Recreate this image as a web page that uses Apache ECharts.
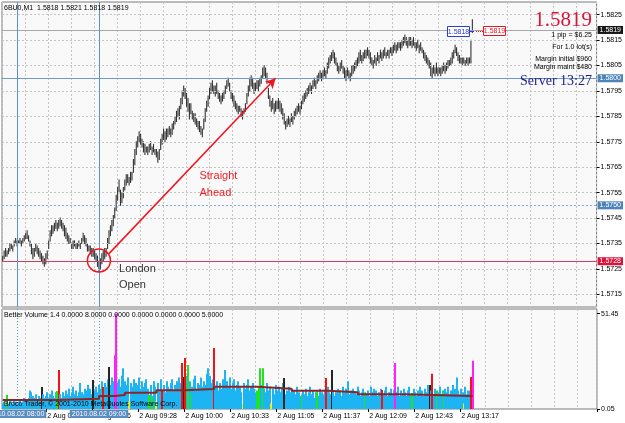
<!DOCTYPE html>
<html>
<head>
<meta charset="utf-8">
<script src="https://cdn.jsdelivr.net/npm/echarts@6/dist/echarts.min.js"></script>
<style>
  html, body { margin: 0; padding: 0; background: #fff; }
  #main { width: 625px; height: 423px; }
</style>
</head>
<body>
<div id="main"></div>
<script>
// 6BU0 M1 bars, 2 Aug 2010 ~08:00 - 13:27 (low / high per bar)
const lows = [
  1.5728,1.5729,1.5730,1.5730,1.5731,1.5732,1.5733,1.5732,1.5734,1.5735,
  1.5734,1.5735,1.5735,1.5734,1.5735,1.5736,1.5737,1.5737,1.5736,1.5734,
  1.5731,1.5729,1.5730,1.5732,1.5731,1.5730,1.5729,1.5728,1.5727,1.5726,
  1.5727,1.5729,1.5733,1.5736,1.5738,1.5739,1.5740,1.5741,1.5740,1.5741,
  1.5742,1.5741,1.5740,1.5738,1.5737,1.5736,1.5735,1.5735,1.5733,1.5733,
  1.5734,1.5733,1.5733,1.5734,1.5733,1.5735,1.5736,1.5735,1.5734,1.5732,
  1.5732,1.5731,1.5730,1.5730,1.5729,1.5728,1.5726,1.5724,1.5725,1.5727,
  1.5728,1.5729,1.5730,1.5733,1.5735,1.5738,1.5740,1.5742,1.5745,1.5748,
  1.5752,1.5755,1.5750,1.5751,1.5753,1.5756,1.5758,1.5759,1.5758,1.5759,
  1.5760,1.5763,1.5766,1.5770,1.5773,1.5775,1.5774,1.5773,1.5771,1.5770,
  1.5771,1.5770,1.5771,1.5772,1.5770,1.5771,1.5770,1.5769,1.5767,1.5768,
  1.5772,1.5774,1.5776,1.5775,1.5776,1.5777,1.5778,1.5777,1.5778,1.5780,
  1.5782,1.5783,1.5785,1.5784,1.5788,1.5790,1.5793,1.5792,1.5789,1.5787,
  1.5784,1.5786,1.5784,1.5783,1.5782,1.5781,1.5780,1.5779,1.5778,1.5777,
  1.5780,1.5783,1.5787,1.5789,1.5792,1.5794,1.5795,1.5794,1.5793,1.5794,
  1.5792,1.5791,1.5790,1.5791,1.5792,1.5794,1.5796,1.5797,1.5795,1.5792,
  1.5791,1.5789,1.5788,1.5787,1.5786,1.5787,1.5785,1.5784,1.5786,1.5787,
  1.5790,1.5793,1.5795,1.5797,1.5796,1.5794,1.5795,1.5796,1.5795,1.5797,
  1.5798,1.5800,1.5801,1.5800,1.5798,1.5792,1.5789,1.5787,1.5788,1.5786,
  1.5787,1.5788,1.5788,1.5787,1.5786,1.5784,1.5782,1.5780,1.5781,1.5782,
  1.5781,1.5783,1.5782,1.5784,1.5785,1.5786,1.5787,1.5786,1.5788,1.5790,
  1.5791,1.5792,1.5793,1.5794,1.5795,1.5794,1.5796,1.5797,1.5796,1.5798,
  1.5799,1.5800,1.5799,1.5800,1.5801,1.5800,1.5802,1.5804,1.5806,1.5807,
  1.5808,1.5806,1.5805,1.5803,1.5802,1.5803,1.5804,1.5802,1.5800,1.5799,
  1.5801,1.5800,1.5799,1.5801,1.5802,1.5803,1.5804,1.5805,1.5806,1.5807,
  1.5806,1.5807,1.5808,1.5808,1.5809,1.5808,1.5806,1.5805,1.5804,1.5806,
  1.5805,1.5807,1.5806,1.5808,1.5807,1.5808,1.5809,1.5808,1.5809,1.5808,
  1.5810,1.5809,1.5810,1.5811,1.5810,1.5811,1.5812,1.5811,1.5812,1.5813,
  1.5814,1.5813,1.5812,1.5813,1.5813,1.5812,1.5813,1.5812,1.5811,1.5812,
  1.5810,1.5811,1.5810,1.5808,1.5807,1.5806,1.5805,1.5804,1.5801,1.5800,
  1.5802,1.5801,1.5802,1.5801,1.5802,1.5801,1.5802,1.5803,1.5802,1.5803,
  1.5804,1.5805,1.5805,1.5806,1.5808,1.5810,1.5809,1.5807,1.5806,1.5806,
  1.5805,1.5806,1.5805,1.5806,1.5805,1.5806,1.5806,1.5818
];
const highs = [
  1.5730,1.5732,1.5733,1.5732,1.5733,1.5735,1.5735,1.5734,1.5736,1.5737,
  1.5736,1.5736,1.5737,1.5736,1.5737,1.5738,1.5739,1.5740,1.5738,1.5736,
  1.5735,1.5733,1.5733,1.5735,1.5734,1.5733,1.5732,1.5731,1.5730,1.5729,
  1.5731,1.5732,1.5736,1.5740,1.5742,1.5742,1.5743,1.5744,1.5743,1.5744,
  1.5745,1.5744,1.5743,1.5742,1.5741,1.5739,1.5738,1.5737,1.5735,1.5736,
  1.5736,1.5735,1.5735,1.5736,1.5735,1.5737,1.5739,1.5738,1.5737,1.5735,
  1.5734,1.5734,1.5733,1.5733,1.5732,1.5731,1.5730,1.5728,1.5729,1.5731,
  1.5732,1.5733,1.5733,1.5737,1.5740,1.5742,1.5744,1.5746,1.5749,1.5754,
  1.5757,1.5760,1.5756,1.5755,1.5757,1.5760,1.5762,1.5762,1.5761,1.5763,
  1.5763,1.5768,1.5772,1.5775,1.5777,1.5779,1.5778,1.5776,1.5775,1.5774,
  1.5773,1.5773,1.5774,1.5775,1.5773,1.5774,1.5772,1.5772,1.5771,1.5772,
  1.5776,1.5778,1.5780,1.5779,1.5780,1.5780,1.5781,1.5780,1.5782,1.5783,
  1.5785,1.5787,1.5788,1.5789,1.5792,1.5795,1.5797,1.5796,1.5794,1.5792,
  1.5790,1.5790,1.5787,1.5786,1.5786,1.5784,1.5783,1.5783,1.5781,1.5780,
  1.5784,1.5788,1.5791,1.5793,1.5796,1.5798,1.5799,1.5797,1.5797,1.5798,
  1.5795,1.5794,1.5793,1.5794,1.5795,1.5797,1.5799,1.5800,1.5798,1.5795,
  1.5794,1.5793,1.5791,1.5790,1.5789,1.5789,1.5788,1.5787,1.5788,1.5790,
  1.5794,1.5797,1.5800,1.5801,1.5800,1.5798,1.5798,1.5799,1.5799,1.5800,
  1.5801,1.5804,1.5805,1.5804,1.5802,1.5796,1.5793,1.5791,1.5792,1.5790,
  1.5791,1.5791,1.5792,1.5791,1.5790,1.5788,1.5786,1.5783,1.5784,1.5785,
  1.5784,1.5786,1.5785,1.5787,1.5788,1.5789,1.5790,1.5789,1.5791,1.5793,
  1.5794,1.5795,1.5796,1.5797,1.5798,1.5797,1.5799,1.5800,1.5799,1.5801,
  1.5802,1.5803,1.5802,1.5803,1.5804,1.5803,1.5806,1.5808,1.5809,1.5810,
  1.5811,1.5810,1.5808,1.5806,1.5805,1.5806,1.5807,1.5805,1.5804,1.5803,
  1.5804,1.5803,1.5802,1.5805,1.5805,1.5806,1.5807,1.5808,1.5810,1.5811,
  1.5809,1.5810,1.5811,1.5811,1.5812,1.5811,1.5810,1.5808,1.5807,1.5809,
  1.5808,1.5810,1.5809,1.5811,1.5810,1.5811,1.5812,1.5810,1.5811,1.5811,
  1.5812,1.5812,1.5813,1.5814,1.5813,1.5814,1.5814,1.5814,1.5815,1.5816,
  1.5817,1.5816,1.5815,1.5816,1.5816,1.5815,1.5816,1.5814,1.5814,1.5815,
  1.5813,1.5814,1.5812,1.5811,1.5810,1.5809,1.5808,1.5807,1.5806,1.5804,
  1.5805,1.5804,1.5806,1.5804,1.5804,1.5804,1.5805,1.5806,1.5805,1.5806,
  1.5807,1.5807,1.5808,1.5810,1.5811,1.5813,1.5812,1.5810,1.5809,1.5808,
  1.5808,1.5808,1.5807,1.5808,1.5808,1.5808,1.5815,1.5823
];
// Better Volume histogram
const volumes = [
  3,4,2,7.6,3,5,4,3,5,4,  3,4,5,3,4,6,5,4,6,10,
  9,7,6,8,5,7,6,11.9,8,6,  7,9,6,8,10,7,6,9,9.7,21,
  8,6,9,7,10,8,11,7,9,12,  8,10,7,9,14,9,8,11,10,13,
  9,11,8,15.7,10,12,9,13,11,15,  11.9,14,12,16,22.7,13,17,15,29,51.45,
  14,16,12,18,22,15,13,17,4,14,  12,16,10,14,13,17,11,15,12,14,
  16,11,7.6,13,7,15,12,4,14,10,  16,10.3,13,9,15,12,11,14,16,10,
  13,15,12,17,14,24.8,17.3,27.5,18,23.8,  15,8,12,16,18,11,14,13,17,12,
  15,13,19,22,18,14,16,33,12,15,  10,14,11,16,13,21,15,12,17,11,
  14,16,10,13,15,12,9,3,14,11,  13,16,10,12,14,11,9,10,12,22,
  13,22,11,9,14,10,12,3,11,8,  13,10,12,9,11,14,16.7,8,10,12,
  9,11,7,10,8,12,9,7,7.6,10,  8,11,7,9,12,8,10,6,9,10,
  7,11,9,8,10,16.7,12,9,8,21,  10,7,9,11,8,10,7,12,9,11,
  15,8,10,7,11,9,8,12,10,7,  9,11,9,8,10,7,12,9,11,8,
  10,7,9,11,10.3,8,10,12,7,9,  11,8,10,24.8,9,12,7,10,8,11,
  9,7,10,12,8,8.6,11,9,7,10,  12,8,10,7,11,9,13,13,10,19,
  8,11,10,9,12,8,10,10,11,9,  12,8,10,13,9,11,17,10,8,11,
  9,3,12,8,10,10,17.3,26
];
const climaxUpBars = [39, 70, 111, 125, 127, 147, 225, 264, 299, 326];
const climaxDownBars = [27, 63, 74, 126, 196, 229, 297];
const churnBars = [3, 38, 102, 104, 129, 131, 177, 178, 179, 181, 208, 219, 252, 285, 302, 307];
const climaxChurnBars = [78, 79, 273, 327];
const lowVolBars = [88, 107, 167, 187, 321];
// moving average of volume, [bar index, value] at each step
const volMaSteps = [[0, 4.9], [38, 5.6], [67, 7.0], [78, 7.6], [85, 8.8], [107, 10.1], [127, 10.8],
  [147, 12.0], [177, 11.0], [201, 9.9], [226, 9.0], [247, 7.9], [279, 7.0], [327, 7.0]];

const priceTicks = [1.5715, 1.5725, 1.5735, 1.5745, 1.5755, 1.5765, 1.5775, 1.5785, 1.5795, 1.5805, 1.5815, 1.5825];
const volTicks = [0.05, 51.45];
const timeTickIdx = [31, 63, 95, 127, 159, 191, 223, 255, 287, 319];
const timeTickText = ['2 Aug 08:22', '2 Aug 08:56', '2 Aug 09:28', '2 Aug 10:00', '2 Aug 10:33',
  '2 Aug 11:05', '2 Aug 11:37', '2 Aug 12:09', '2 Aug 12:43', '2 Aug 13:17'];
const slotCount = 414; // bar slots incl. empty space on the right

const slots = [];
for (let i = 0; i < slotCount; i++) slots.push(String(i));

const font = '"Liberation Sans", Arial, sans-serif';
const gridLine = { color: '#c4c4c4', type: [2, 2], width: 1 };
const isGridSlot = (k) => ((k - 96) % 16 + 16) % 16 === 0;

function volColor(i) {
  if (climaxChurnBars.includes(i)) return '#ff1fff';
  if (climaxUpBars.includes(i)) return '#f01414';
  if (climaxDownBars.includes(i)) return '#262626';
  if (churnBars.includes(i)) return '#1ee61e';
  if (lowVolBars.includes(i)) return '#f0f000';
  return '#1cb4f2';
}

function boxLabel(text, bg) {
  return { show: true, position: 'end', distance: 1, formatter: text, color: '#fff',
    backgroundColor: bg, padding: [1, 2, 0, 2], fontSize: 7, fontFamily: font };
}

let myChart = echarts.init(document.getElementById('main'));
let option = {
  animation: false,
  backgroundColor: '#ffffff',
  grid: [
    { left: 2, right: 28, top: 2, height: 305, show: true, backgroundColor: '#f9f9f9', borderColor: '#7a7a7a', borderWidth: 1 },
    { left: 2, right: 28, top: 309, height: 100, show: true, backgroundColor: '#f9f9f9', borderColor: '#7a7a7a', borderWidth: 1 }
  ],
  xAxis: [
    {
      type: 'category', gridIndex: 0, data: slots, boundaryGap: true,
      axisLine: { show: false }, axisTick: { show: false }, axisLabel: { show: false },
      splitLine: { show: true, interval: isGridSlot, lineStyle: gridLine }
    },
    {
      type: 'category', gridIndex: 1, data: slots, boundaryGap: true,
      axisLine: { show: false },
      axisTick: { show: true, interval: (k) => timeTickIdx.includes(k), length: 3, lineStyle: { color: '#000' } },
      axisLabel: {
        interval: (k) => timeTickIdx.includes(k),
        formatter: (v, k) => { const j = timeTickIdx.indexOf(Number(v)); return j >= 0 ? timeTickText[j] : ''; },
        align: 'left', fontSize: 7, fontFamily: font, color: '#000', margin: 4
      },
      splitLine: { show: true, interval: isGridSlot, lineStyle: gridLine }
    }
  ],
  yAxis: [
    {
      type: 'value', gridIndex: 0, position: 'right', min: 1.5710, max: 1.5830, scale: true,
      axisLine: { show: false },
      axisTick: { show: true, customValues: priceTicks, length: 3, lineStyle: { color: '#000' } },
      axisLabel: { customValues: priceTicks, formatter: (v) => v.toFixed(4), fontSize: 7, fontFamily: font, color: '#000', margin: 4 },
      splitLine: { show: false }
    },
    {
      type: 'value', gridIndex: 1, position: 'right', min: 0, max: 54,
      axisLine: { show: false },
      axisTick: { show: true, customValues: volTicks, length: 3, lineStyle: { color: '#000' } },
      axisLabel: { customValues: volTicks, formatter: (v) => v.toFixed(2), fontSize: 7, fontFamily: font, color: '#000', margin: 4, verticalAlign: 'middle' },
      splitLine: { show: false }
    }
  ],
  series: [
    {
      name: 'price', type: 'custom', xAxisIndex: 0, yAxisIndex: 0, clip: true,
      data: lows.map((lo, i) => [i, lo, highs[i]]),
      encode: { x: 0, y: [1, 2] },
      renderItem: function (params, api) {
        const p1 = api.coord([api.value(0), api.value(1)]);
        const p2 = api.coord([api.value(0), api.value(2)]);
        return { type: 'rect', shape: { x: p1[0] - 0.55, y: p2[1] - 0.5, width: 1.1, height: p1[1] - p2[1] + 1 },
          style: { fill: '#333333' } };
      },
      markLine: {
        silent: true, symbol: 'none', animation: false, precision: 5,
        data: [
          ...priceTicks.map((v) => ({ yAxis: v, lineStyle: gridLine, label: { show: false } })),
          { yAxis: 1.5819, lineStyle: { color: '#a8a8a8', type: 'solid', width: 1 }, label: boxLabel('1.5819', '#161616') },
          { yAxis: 1.5800, lineStyle: { color: '#6d9ccb', type: 'solid', width: 1 }, label: boxLabel('1.5800', '#4f84b8') },
          { yAxis: 1.5750, lineStyle: { color: '#7db2e0', type: [2, 2], width: 1 }, label: boxLabel('1.5750', '#4f84b8') },
          { yAxis: 1.5728, lineStyle: { color: '#dc3a5a', type: 'solid', width: 1 }, label: boxLabel('1.5728', '#dc143c') },
          { xAxis: 10, lineStyle: { color: '#5b93c8', type: 'solid', width: 1 }, label: { show: false } },
          { xAxis: 67, lineStyle: { color: '#5b93c8', type: 'solid', width: 1 }, label: { show: false } },
          [
            { coord: [74, 1.5731], symbol: 'none' },
            { coord: [190, 1.5800], symbol: 'arrow', symbolSize: [8, 10],
              lineStyle: { color: '#f0141e', width: 1.5, type: 'solid' }, label: { show: false } }
          ]
        ]
      },
      markPoint: {
        silent: true, animation: false,
        data: [
          { coord: [67, 1.57283], symbol: 'circle', symbolSize: 23,
            itemStyle: { color: 'rgba(0,0,0,0)', borderColor: '#ee1420', borderWidth: 1.5 }, label: { show: false } },
          { coord: [81, 1.5722], symbol: 'circle', symbolSize: 0,
            label: { show: true, position: 'right', distance: 0, formatter: 'London\nOpen', color: '#333',
              fontSize: 11, lineHeight: 16, fontFamily: font } },
          { coord: [137, 1.57584], symbol: 'circle', symbolSize: 0,
            label: { show: true, position: 'right', distance: 0, formatter: 'Straight\nAhead', color: '#ee1c24',
              fontSize: 11, lineHeight: 17, fontFamily: font } }
        ]
      }
    },
    {
      name: 'volume', type: 'custom', xAxisIndex: 1, yAxisIndex: 1, clip: true,
      data: volumes.map((v, i) => [i, v]),
      encode: { x: 0, y: 1 },
      renderItem: function (params, api) {
        const i = api.value(0);
        const top = api.coord([i, api.value(1)]);
        const base = api.coord([i, 0]);
        return { type: 'rect', shape: { x: Math.round(top[0]) - 1, y: top[1], width: 2, height: base[1] - top[1] },
          style: { fill: volColor(i) } };
      },
      markLine: {
        silent: true, symbol: 'none', animation: false, precision: 5,
        data: [
          { xAxis: 10, lineStyle: { color: '#5b93c8', type: [1, 2], width: 1 },
            label: { show: true, position: 'start', distance: 1, formatter: '2010.08.02 08:00', color: '#fff',
              backgroundColor: '#5a8cc0', padding: [1, 2, 0, 2], fontSize: 7, fontFamily: font } },
          { xAxis: 67, lineStyle: { color: '#5b93c8', type: [1, 2], width: 1 },
            label: { show: true, position: 'start', distance: 1, formatter: '2010.08.02 09:00', color: '#fff',
              backgroundColor: '#5a8cc0', padding: [1, 2, 0, 2], fontSize: 7, fontFamily: font } }
        ]
      }
    },
    {
      name: 'volume MA', type: 'line', xAxisIndex: 1, yAxisIndex: 1, step: 'end',
      data: volMaSteps, showSymbol: false, symbol: 'none',
      lineStyle: { color: '#8e2424', width: 2 }, z: 5
    }
  ],
  graphic: [
    { type: 'text', x: 4, y: 8, z: 100, style: { text: '6BU0,M1  1.5818 1.5821 1.5818 1.5819', fill: '#000', font: '7px ' + font, verticalAlign: 'middle' } },
    { type: 'text', x: 592, y: 20, z: 100, style: { text: '1.5819', fill: '#dc143c', font: '21px "Liberation Serif", serif', align: 'right', verticalAlign: 'middle' } },
    { type: 'text', x: 592, y: 35, z: 100, style: { text: '1 pip = $6.25', fill: '#000', font: '7px ' + font, align: 'right', verticalAlign: 'middle' } },
    { type: 'text', x: 592, y: 47, z: 100, style: { text: 'For 1.0 lot(s)', fill: '#000', font: '7px ' + font, align: 'right', verticalAlign: 'middle' } },
    { type: 'text', x: 592, y: 59, z: 100, style: { text: 'Margin initial $960', fill: '#000', font: '7px ' + font, align: 'right', verticalAlign: 'middle' } },
    { type: 'text', x: 592, y: 67, z: 100, style: { text: 'Margin maint $480', fill: '#000', font: '7px ' + font, align: 'right', verticalAlign: 'middle' } },
    { type: 'text', x: 592, y: 81, z: 100, style: { text: 'Server 13:27', fill: '#1c1c8c', font: '14px "Liberation Serif", serif', align: 'right', verticalAlign: 'middle' } },
    { type: 'line', z: 100, shape: { x1: 469, y1: 31.5, x2: 474, y2: 31.5 }, style: { stroke: '#2a3ad8', lineWidth: 1 } },
    { type: 'rect', z: 100, shape: { x: 447.5, y: 26.5, width: 22, height: 10 }, style: { fill: '#fff', stroke: '#2a3ad8', lineWidth: 1 } },
    { type: 'text', x: 458.5, y: 32, z: 101, style: { text: '1.5818', fill: '#2a3ad8', font: '7px ' + font, align: 'center', verticalAlign: 'middle' } },
    { type: 'line', z: 100, shape: { x1: 476, y1: 31.5, x2: 483, y2: 31.5 }, style: { stroke: '#ee1420', lineWidth: 1, lineDash: [1, 1] } },
    { type: 'rect', z: 100, shape: { x: 483.5, y: 26.5, width: 22, height: 9 }, style: { fill: '#fff', stroke: '#ee1420', lineWidth: 1 } },
    { type: 'text', x: 494.5, y: 31.5, z: 101, style: { text: '1.5819', fill: '#ee1420', font: '7px ' + font, align: 'center', verticalAlign: 'middle' } },
    { type: 'text', x: 4, y: 315, z: 100, style: { text: 'Better Volume 1.4 0.0000 8.0000 0.0000 0.0000 0.0000 0.0000 5.0000', fill: '#000', font: '7px ' + font, verticalAlign: 'middle' } },
    { type: 'text', x: 4, y: 404, z: 100, style: { text: 'Broco Trader, \u00a9 2001-2010 MetaQuotes Software Corp.', fill: '#000', font: '7px ' + font, verticalAlign: 'middle' } }
  ]
};
myChart.setOption(option);
</script>
</body>
</html>
